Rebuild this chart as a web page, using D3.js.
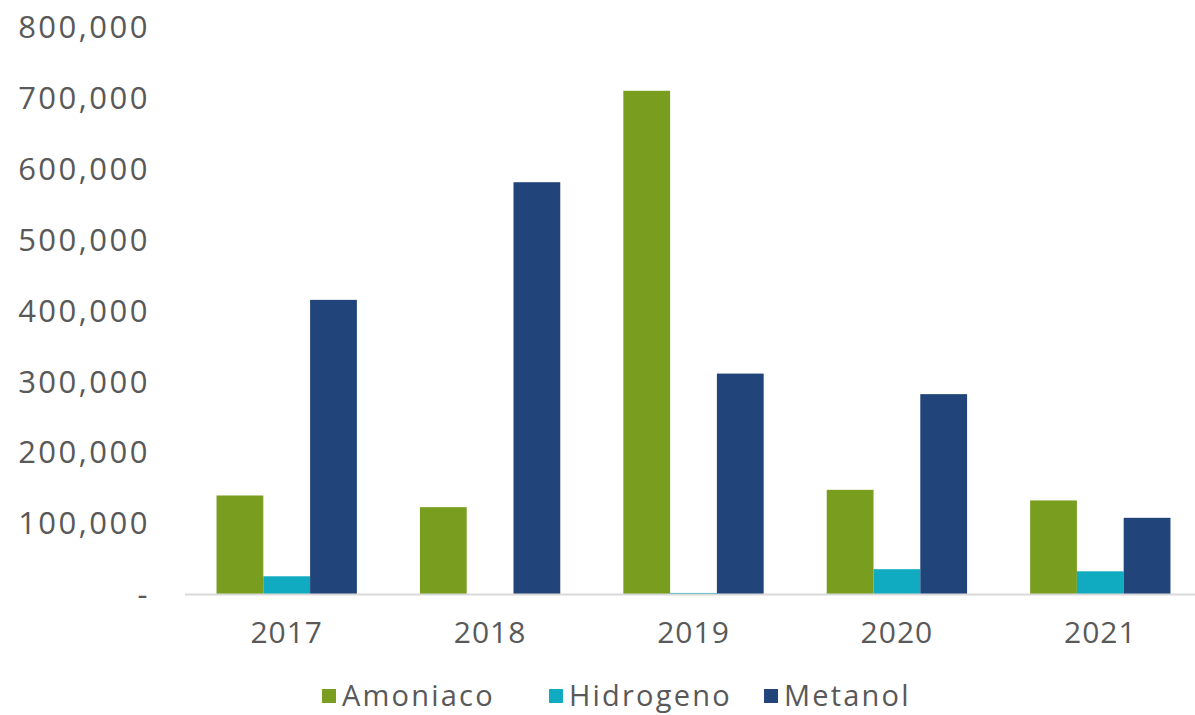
<!DOCTYPE html>
<html><head><meta charset="utf-8">
<script src="https://cdn.jsdelivr.net/npm/d3@7"></script>
<style>body{margin:0;background:#fff}svg{display:block}text{font-family:"Open Sans",sans-serif;fill:#595959}</style>
</head><body><svg id="c" width="1195" height="715"></svg>
<script>
const years = ["2017","2018","2019","2020","2021"];
const seriesNames = ["Amoniaco","Hidrogeno","Metanol"];
const amoniaco = [139000,122500,710000,147000,132000];
const hidrogeno = [25000,0,1500,35000,32000];
const metanol = [415000,581000,311000,282000,107500];
const yTicks = [0,100000,200000,300000,400000,500000,600000,700000,800000];
const colors = ["#789d1f","#10abc1","#21457a"];
const values = [amoniaco,hidrogeno,metanol];

const svg = d3.select("#c");
const W = 1195, H = 715;
const x = d3.scaleBand().domain(years).range([185, 1202]).paddingInner(0.31).paddingOuter(0.155);
const xs = d3.scaleBand().domain(seriesNames).range([0, x.bandwidth()]);
const y = d3.scaleLinear().domain([0,800000]).range([594, 27]);

const fmt = d3.format(",");
svg.append("g").selectAll("text").data(yTicks).join("text")
  .attr("x",150).attr("y",d=>y(d)).attr("dy","0.36em").attr("text-anchor","end")
  .style("font-size","31px").style("letter-spacing","2.5px")
  .text(d=> d===0 ? "-" : fmt(d));

seriesNames.forEach((s,i)=>{
  svg.append("g").selectAll("rect").data(years).join("rect")
    .attr("x",d=>x(d)+xs(s)).attr("width",xs.bandwidth())
    .attr("y",(d,j)=>y(values[i][j])).attr("height",(d,j)=>y(0)-y(values[i][j]))
    .attr("fill",colors[i]);
});

svg.append("line").attr("x1",185).attr("x2",W).attr("y1",y(0)+0.5).attr("y2",y(0)+0.5)
  .attr("stroke","#d9d9d9").attr("stroke-width",2);

svg.append("g").selectAll("text").data(years).join("text")
  .attr("x",d=>x(d)+x.bandwidth()/2).attr("y",632).attr("dy","0.36em").attr("text-anchor","middle")
  .style("font-size","30px").style("letter-spacing","1px").text(d=>d);

const legX = [322,549,764];
const lg = svg.append("g").selectAll("g").data(seriesNames).join("g")
  .attr("transform",(d,i)=>`translate(${legX[i]},696)`);
lg.append("rect").attr("x",0).attr("y",-7).attr("width",14).attr("height",14).attr("fill",(d,i)=>colors[i]);
lg.append("text").attr("x",20).attr("y",9.5).style("font-size","29px").style("letter-spacing","2.2px").text(d=>d);
</script></body></html>
